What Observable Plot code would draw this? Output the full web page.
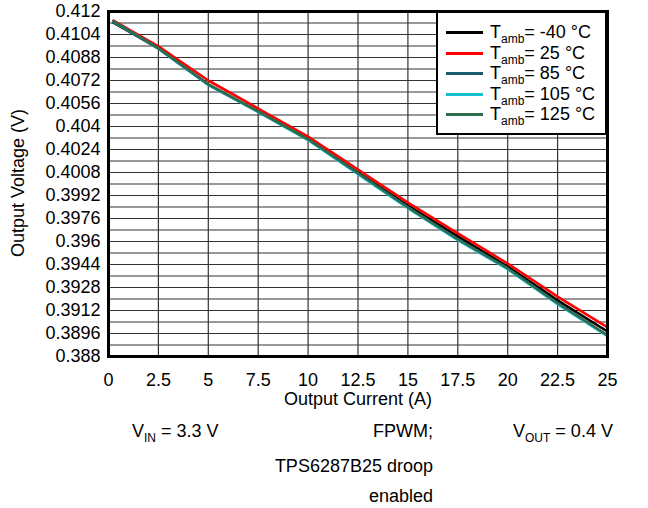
<!DOCTYPE html>
<html>
<head>
<meta charset="utf-8">
<script src="https://cdn.jsdelivr.net/npm/d3@7"></script>
<script src="https://cdn.jsdelivr.net/npm/@observablehq/plot@0.6"></script>
<style>
  html, body { margin: 0; padding: 0; background: white; }
  #wrap { position: relative; width: 648px; height: 508px; font-family: "Liberation Sans", Arial, sans-serif; color: black; overflow: hidden; }
  #wrap svg text { font-size: 18px !important; font-family: "Liberation Sans", Arial, sans-serif; fill: black; }
  .t { position: absolute; font-size: 18px; line-height: 21px; white-space: nowrap; }
  .sub { font-size: 12px; position: relative; top: 5px; }
  #legend { position: absolute; left: 436px; top: 11px; width: 167px; height: 120px; background: white; border: 2px solid black; }
  .li { position: absolute; left: 8px; height: 21px; }
  .sw { position: absolute; left: 0; top: 9px; width: 37px; height: 3px; }
  .lt { position: absolute; left: 44px; top: 0; font-size: 18px; line-height: 21px; white-space: nowrap; }
</style>
</head>
<body>
<div id="wrap"></div>
<script>
// ---- data ----
const current = [0.25, 2.5, 5, 7.5, 10, 12.5, 15, 17.5, 20, 22.5, 25];
const vM40 = [0.41123, 0.40943, 0.40692, 0.40504, 0.40310, 0.40080, 0.39850, 0.39635, 0.39426, 0.39190, 0.38974];
const v25  = [0.41137, 0.40957, 0.40720, 0.40525, 0.40330, 0.40101, 0.39871, 0.39656, 0.39447, 0.39217, 0.39002];
const v85  = [0.41130, 0.40943, 0.40692, 0.40504, 0.40310, 0.40073, 0.39837, 0.39614, 0.39412, 0.39169, 0.38946];
const v105 = [0.41129, 0.40941, 0.40689, 0.40501, 0.40306, 0.40069, 0.39832, 0.39609, 0.39407, 0.39164, 0.38941];
const v125 = [0.41131, 0.40944, 0.40693, 0.40505, 0.40311, 0.40075, 0.39838, 0.39616, 0.39414, 0.39171, 0.38948];
const seriesNames = ["-40", "25", "85", "105", "125"];
const seriesValues = [vM40, v25, v85, v105, v125];
const seriesColors = ["#000000", "#ff0000", "#1d5b6e", "#17bfd2", "#2e6b4f"];
const xTicks = [0, 2.5, 5, 7.5, 10, 12.5, 15, 17.5, 20, 22.5, 25];
const yTicks = [0.388, 0.3896, 0.3912, 0.3928, 0.3944, 0.396, 0.3976, 0.3992, 0.4008, 0.4024, 0.404, 0.4056, 0.4072, 0.4088, 0.4104, 0.412];
const xLabel = "Output Current (A)";
const yLabel = "Output Voltage (V)";

// ---- build ----
const rows = seriesNames.flatMap((name, k) => current.map((x, i) => ({x, y: seriesValues[k][i], s: name})));
const yGrid = yTicks.concat(d3.pairs(yTicks).map(([a, b]) => (a + b) / 2));
const gridStyle = {stroke: "#333", strokeOpacity: 1, strokeWidth: 1.2};

const chart = Plot.plot({
  width: 648,
  height: 410,
  marginLeft: 108,
  marginRight: 41,
  marginTop: 11,
  marginBottom: 54,
  style: {fontFamily: "'Liberation Sans', Arial, sans-serif", fontSize: "18px", color: "black", background: "white"},
  x: {domain: [0, 25]},
  y: {domain: [0.388, 0.412]},
  color: {domain: seriesNames, range: seriesColors},
  marks: [
    Plot.gridX(xTicks, gridStyle),
    Plot.gridY(yGrid, gridStyle),
    Plot.axisX(xTicks, {tickSize: 0, tickPadding: 17, fontSize: 18, tickFormat: d => String(d), label: null}),
    Plot.axisY(yTicks, {tickSize: 0, tickPadding: 8, fontSize: 18, tickFormat: d => String(d), label: null}),
    Plot.line(rows, {x: "x", y: "y", z: "s", stroke: "s", strokeWidth: 2.6}),
    Plot.frame({stroke: "black", strokeWidth: 3})
  ]
});
chart.style.position = "absolute";
chart.style.left = "0px";
chart.style.top = "0px";
const wrap = document.getElementById("wrap");
wrap.appendChild(chart);

function addText(html, css) {
  const d = document.createElement("div");
  d.className = "t";
  d.innerHTML = html;
  Object.assign(d.style, css);
  wrap.appendChild(d);
  return d;
}

// axis titles
addText(xLabel, {left: "358px", top: "389px", transform: "translateX(-50%)"});
addText(yLabel, {left: "18px", top: "183px", transform: "translate(-50%, -50%) rotate(-90deg)"});

// legend
const legend = document.createElement("div");
legend.id = "legend";
seriesNames.forEach((name, k) => {
  const item = document.createElement("div");
  item.className = "li";
  item.style.top = (9 + k * 20.5) + "px";
  const sw = document.createElement("div");
  sw.className = "sw";
  sw.style.background = seriesColors[k];
  const lt = document.createElement("div");
  lt.className = "lt";
  lt.innerHTML = 'T<span class="sub">amb</span>= ' + name + ' °C';
  item.appendChild(sw);
  item.appendChild(lt);
  legend.appendChild(item);
});
wrap.appendChild(legend);

// notes below the chart
addText('V<span class="sub">IN</span> = 3.3 V', {left: "132px", top: "421px"});
addText('FPWM;', {right: "215px", top: "421px"});
addText('TPS6287B25 droop', {right: "215px", top: "456px"});
addText('enabled', {right: "215px", top: "486px"});
addText('V<span class="sub">OUT</span> = 0.4 V', {left: "513px", top: "421px"});
</script>
</body>
</html>
